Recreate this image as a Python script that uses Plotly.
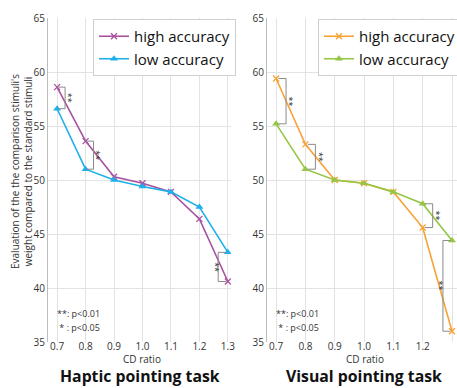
import plotly.graph_objects as go

cd_ratio = [0.7, 0.8, 0.9, 1.0, 1.1, 1.2, 1.3]
tick_labels = ["0.7", "0.8", "0.9", "1.0", "1.1", "1.2", "1.3"]
y_ticks = [35, 40, 45, 50, 55, 60, 65]

haptic_high = [58.6, 53.6, 50.3, 49.7, 48.9, 46.4, 40.6]
haptic_low = [56.6, 51.0, 50.0, 49.4, 48.9, 47.5, 43.3]
visual_high = [59.4, 53.3, 50.0, 49.7, 48.9, 45.6, 36.0]
visual_low = [55.2, 51.0, 50.0, 49.7, 48.9, 47.8, 44.4]

# significance marks: (index of CD ratio, label)
haptic_sig = [(0, "**"), (1, "**"), (6, "**")]
visual_sig = [(0, "**"), (1, "**"), (5, "**"), (6, "**")]

series_names = ["high accuracy", "low accuracy"]

PURPLE = "#a8529f"
CYAN = "#1fb0ea"
ORANGE = "#f8a236"
GREEN = "#95c645"
GRAY_TXT = "#333333"
FONT = "Open Sans"

W, H = 457, 388


def px(x):
    return x / W


def py(y):
    return 1 - y / H


fig = go.Figure()


def add_pair(high, low, c_high, c_low, xa, ya, legend):
    fig.add_trace(go.Scatter(
        x=cd_ratio, y=high, name=series_names[0], mode="lines+markers",
        line=dict(color=c_high, width=1.6),
        marker=dict(symbol="x-thin", size=6, line=dict(color=c_high, width=1.3)),
        xaxis=xa, yaxis=ya, legend=legend))
    fig.add_trace(go.Scatter(
        x=cd_ratio, y=low, name=series_names[1], mode="lines+markers",
        line=dict(color=c_low, width=1.6),
        marker=dict(symbol="triangle-up", size=7, color=c_low),
        xaxis=xa, yaxis=ya, legend=legend))


add_pair(haptic_high, haptic_low, PURPLE, CYAN, "x", "y", "legend")
add_pair(visual_high, visual_low, ORANGE, GREEN, "x2", "y2", "legend2")

shapes = []
annotations = []


def add_brackets(sig, high, low, xref, yref, offsets):
    for (i, lab) in sig:
        vx, tick_end, tx = offsets[i]
        top = max(high[i], low[i])
        bot = min(high[i], low[i])
        path = f"M {tick_end},{top} L {vx},{top} L {vx},{bot} L {tick_end},{bot}"
        shapes.append(dict(type="path", path=path, xref=xref, yref=yref,
                           line=dict(color="#8a8a8a", width=1)))
        annotations.append(dict(x=tx, y=(top + bot) / 2, xref=xref, yref=yref,
                                text=lab, showarrow=False, textangle=90,
                                xanchor="center", yanchor="middle",
                                font=dict(size=9, color=GRAY_TXT, family=FONT)))


# per-index bracket geometry (vertical x, tick end x, label x)
haptic_off = {0: (0.728, 0.705, 0.739), 1: (0.828, 0.803, 0.840), 6: (1.266, 1.295, 1.254)}
visual_off = {0: (0.734, 0.708, 0.746), 1: (0.834, 0.808, 0.846),
              5: (1.234, 1.207, 1.246), 6: (1.269, 1.295, 1.257)}
add_brackets(haptic_sig, haptic_high, haptic_low, "x", "y", haptic_off)
add_brackets(visual_sig, visual_high, visual_low, "x2", "y2", visual_off)

# p-value keys
for xr, yr, x in [("x", "y", 0.692), ("x2", "y2", 0.692)]:
    annotations.append(dict(x=x, y=37.6, xref=xr, yref=yr, xanchor="left", yanchor="middle",
                            text="**: p<0.01", showarrow=False,
                            font=dict(size=9, color=GRAY_TXT, family=FONT)))
    annotations.append(dict(x=x, y=36.3, xref=xr, yref=yr, xanchor="left", yanchor="middle",
                            text=" * : p<0.05", showarrow=False,
                            font=dict(size=9, color=GRAY_TXT, family=FONT)))

# y-axis title (two lines)
annotations.append(dict(x=px(21), y=py(172), xref="paper", yref="paper",
                        xanchor="center", yanchor="middle",
                        text="Evaluation of the the comparison stimuli's<br>weight compared to the standard stimuli",
                        showarrow=False, textangle=-90,
                        font=dict(size=10, color=GRAY_TXT, family=FONT)))
# x titles
for xc, txt in [(142, "CD ratio"), (365, "CD ratio")]:
    annotations.append(dict(x=px(xc), y=py(359), xref="paper", yref="paper",
                            xanchor="center", yanchor="middle", borderpad=0,
                            text=txt, showarrow=False,
                            font=dict(size=10, color=GRAY_TXT, family=FONT)))
for xc, txt in [(140, "Haptic pointing task"), (364, "Visual pointing task")]:
    annotations.append(dict(x=px(xc), y=0, xref="paper", yref="paper",
                            xanchor="center", yanchor="bottom", borderpad=0,
                            text=f"<b>{txt}</b>", showarrow=False,
                            font=dict(size=15.8, color="#111111", family=FONT)))

ax_common = dict(tickvals=cd_ratio, ticktext=tick_labels, showgrid=True,
                 gridcolor="#e3e3e3", gridwidth=1, zeroline=False, automargin=False,
                 tickfont=dict(size=10, color=GRAY_TXT, family=FONT), ticks="",
                 ticklabelstandoff=-3, showline=False)
ay_common = dict(tickvals=y_ticks, range=[35, 65], showgrid=True,
                 gridcolor="#e3e3e3", gridwidth=1, zeroline=False, automargin=False,
                 tickfont=dict(size=10, color=GRAY_TXT, family=FONT), ticks="",
                 showline=True, linecolor="#bdbdbd", linewidth=1)

ydom = [py(342), py(18)]

legend_style = dict(yanchor="top", xanchor="left", bgcolor="white",
                    bordercolor="#cfcfcf", borderwidth=1,
                    font=dict(size=15, color="#111111", family=FONT),
                    tracegroupgap=0, itemwidth=30)

fig.update_layout(
    width=W, height=H,
    margin=dict(l=0, r=0, t=0, b=0, autoexpand=False),
    paper_bgcolor="white", plot_bgcolor="white",
    font=dict(family=FONT, color=GRAY_TXT),
    xaxis=dict(domain=[px(48), px(231)], range=[0.668, 1.311], anchor="y", **ax_common),
    yaxis=dict(domain=ydom, anchor="x", **ay_common),
    xaxis2=dict(domain=[px(267), 1.0], range=[0.669, 1.317], anchor="y2", **ax_common),
    yaxis2=dict(domain=ydom, anchor="x2", **ay_common),
    legend=dict(x=px(93), y=py(19), **legend_style),
    legend2=dict(x=px(318), y=py(19), **legend_style),
    shapes=shapes, annotations=annotations,
)

fig.write_html("out.html", config={"displayModeBar": False},
               post_script="document.body.style.margin='0';document.body.style.overflow='hidden';")
